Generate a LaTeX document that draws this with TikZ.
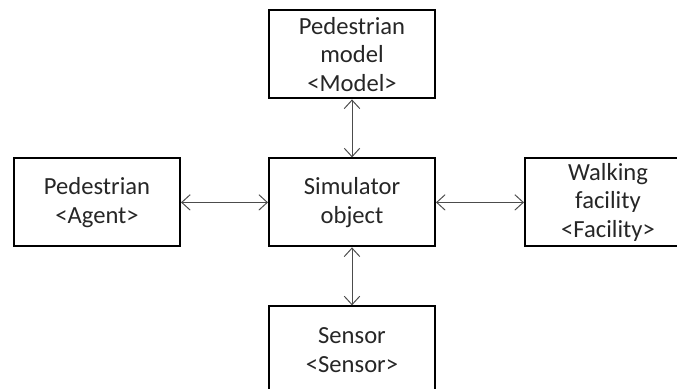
\documentclass[tikz,border=0pt]{standalone}
\usepackage{fontspec}
\setmainfont{Carlito}
\usetikzlibrary{positioning, arrows.meta}

\begin{document}
\begin{tikzpicture}[>={Straight Barb[length=6pt, width=11pt]},
	block/.style={draw, line width=1.4pt, minimum width=4.15cm, minimum height=2.2cm, inner sep=0pt, align=center, text=black!85, font=\fontsize{17.5}{20.5}\selectfont},
	link/.style={<->, black!70, line width=0.7pt}]

\clip (0,0) rectangle (16.925,9.7);

\node[block] (sim) at (8.8,4.64) {Simulator\\object};
\node[block, above=1.45cm of sim] (model) {Pedestrian\\model\\<Model>};
\node[block, left=2.175cm of sim] (agent) {Pedestrian\\<Agent>};
\node[block, right=2.2cm of sim] (facility) {Walking\\facility\\<Facility>};
\node[block, below=1.45cm of sim] (sensor) {Sensor\\<Sensor>};

\draw[link] (sim) -- (model);
\draw[link] (sim) -- (agent);
\draw[link] (sim) -- (facility);
\draw[link] (sim) -- (sensor);

\end{tikzpicture}
\end{document}
